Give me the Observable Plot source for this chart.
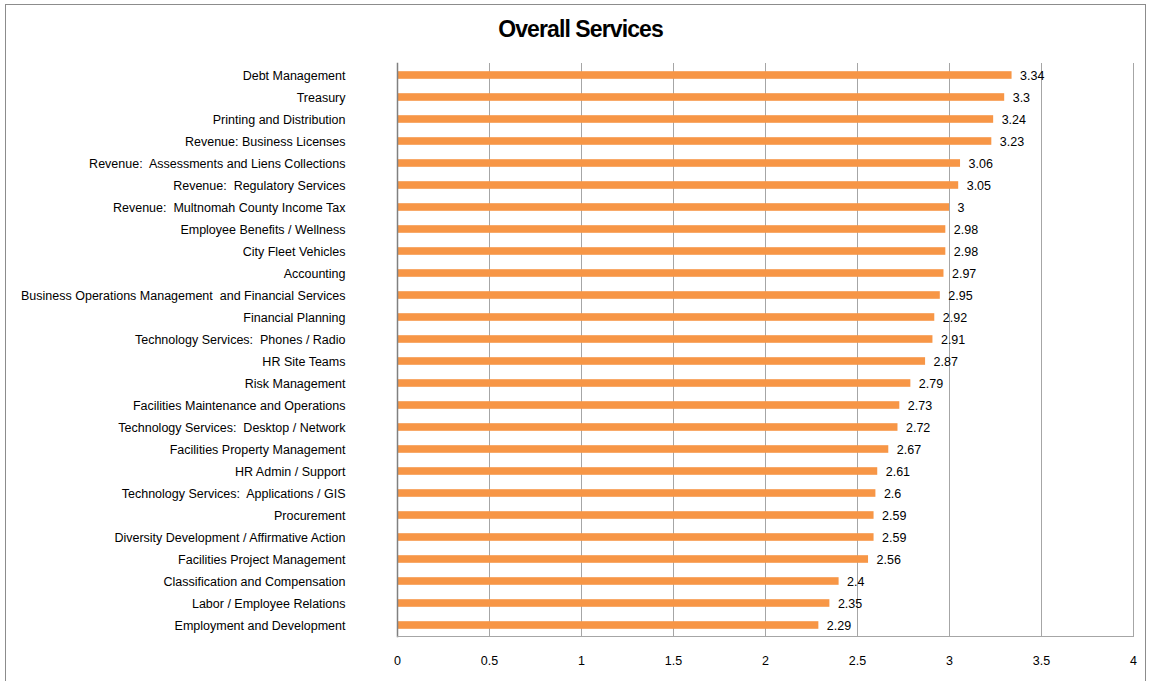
<!DOCTYPE html>
<html>
<head>
<meta charset="utf-8">
<script src="https://cdn.jsdelivr.net/npm/d3@7"></script>
<script src="https://cdn.jsdelivr.net/npm/@observablehq/plot@0.6"></script>
<style>
  html, body { margin: 0; padding: 0; overflow: hidden; background: #fff; }
  body { width: 1151px; height: 681px; position: relative; font-family: "Liberation Sans", Arial, sans-serif; }
  #frame { position: absolute; left: 5px; top: 4px; width: 1141px; height: 700px; border: 1px solid #8c8c8c; box-sizing: border-box; pointer-events: none; }
  #title { position: absolute; left: 0; top: 16px; width: 1161px; text-align: center; font-size: 23px; font-weight: bold; letter-spacing: -0.9px; color: #000; }
  #chart { position: absolute; left: 0; top: 50px; }
  #chart svg text { font-family: "Liberation Sans", Arial, sans-serif; }
</style>
</head>
<body>
<div id="frame"></div>
<div id="title">Overall Services</div>
<div id="chart"></div>
<script>
const categories = [
  "Debt Management",
  "Treasury",
  "Printing and Distribution",
  "Revenue: Business Licenses",
  "Revenue:  Assessments and Liens Collections",
  "Revenue:  Regulatory Services",
  "Revenue:  Multnomah County Income Tax",
  "Employee Benefits / Wellness",
  "City Fleet Vehicles",
  "Accounting",
  "Business Operations Management  and Financial Services",
  "Financial Planning",
  "Technology Services:  Phones / Radio",
  "HR Site Teams",
  "Risk Management",
  "Facilities Maintenance and Operations",
  "Technology Services:  Desktop / Network",
  "Facilities Property Management",
  "HR Admin / Support",
  "Technology Services:  Applications / GIS",
  "Procurement",
  "Diversity Development / Affirmative Action",
  "Facilities Project Management",
  "Classification and Compensation",
  "Labor / Employee Relations",
  "Employment and Development"
];
const values = [3.34, 3.3, 3.24, 3.23, 3.06, 3.05, 3, 2.98, 2.98, 2.97, 2.95, 2.92, 2.91, 2.87, 2.79, 2.73, 2.72, 2.67, 2.61, 2.6, 2.59, 2.59, 2.56, 2.4, 2.35, 2.29];
const xTicks = [0, 0.5, 1, 1.5, 2, 2.5, 3, 3.5, 4];

const data = categories.map((c, i) => ({name: c, value: values[i]}));

const chart = Plot.plot({
  width: 1151,
  height: 631,
  marginLeft: 397,
  marginRight: 18,
  marginTop: 13,
  marginBottom: 45,
  style: {fontSize: "12px", color: "#000", background: "transparent"},
  x: {domain: [0, 4], ticks: xTicks, label: null},
  y: {domain: categories, label: null, padding: 0},
  marks: [
    Plot.ruleX(xTicks.filter(d => d > 0), {stroke: "#a6a6a6", strokeWidth: 1, strokeOpacity: 1}),
    Plot.barX(data, {x: "value", y: "name", fill: "#F79646", insetTop: 7.2, insetBottom: 7.2}),
    Plot.text(data, {x: "value", y: "name", text: d => String(d.value), textAnchor: "start", dx: 8, fill: "#000", fontSize: 12.5}),
    Plot.axisX({ticks: xTicks, tickSize: 0, tickPadding: 20, tickFormat: d => String(d), fontSize: 12.5, fill: "#000", label: null}),
    Plot.axisY({tickSize: 0, tickPadding: 52, fontSize: 12.5, fill: "#000", label: null, style: {letterSpacing: "-0.3px"}}),
    Plot.frame({anchor: "left", stroke: "#808080", strokeWidth: 1.5}),
    Plot.frame({anchor: "bottom", stroke: "#a6a6a6", strokeWidth: 1})
  ]
});
document.getElementById("chart").appendChild(chart);
</script>
</body>
</html>
